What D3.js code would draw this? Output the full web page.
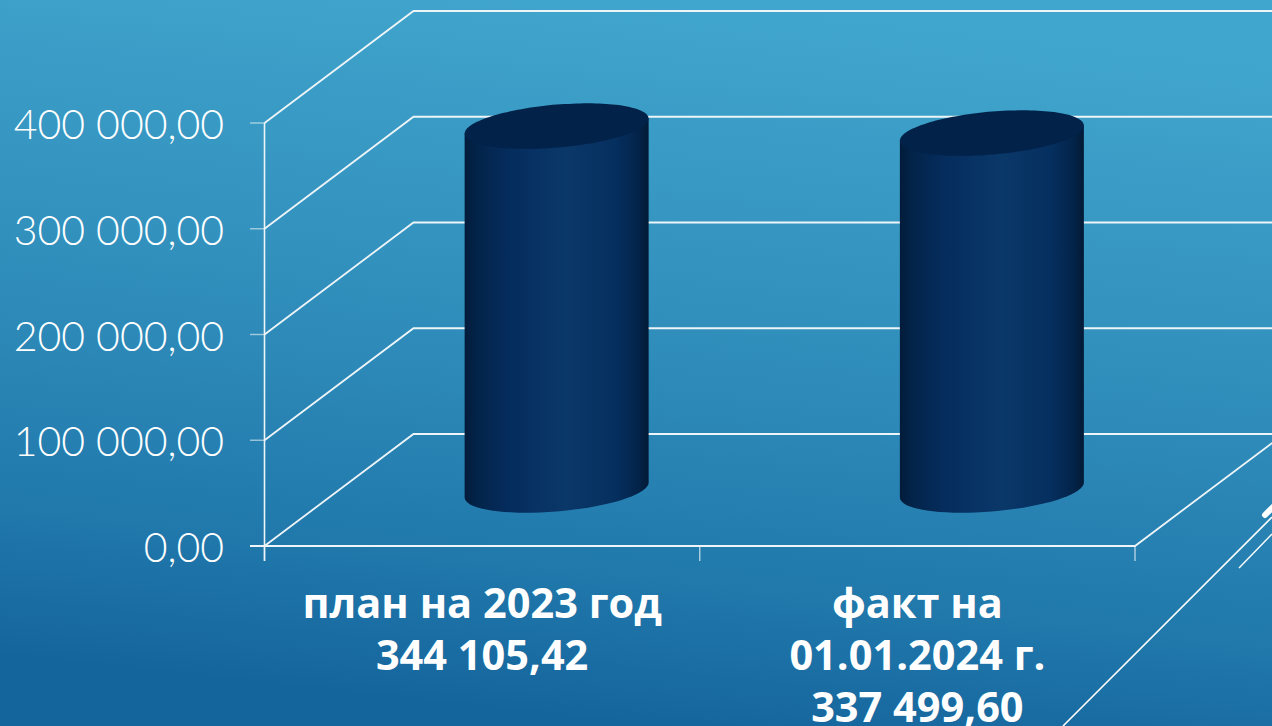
<!DOCTYPE html>
<html><head><meta charset="utf-8">
<style>html,body{margin:0;padding:0;background:#2a86b4;overflow:hidden}svg{display:block}</style>
<script src="https://cdn.jsdelivr.net/npm/d3@7/dist/d3.min.js"></script>
</head><body><script>
const categories = ["план на 2023 год", "факт на 01.01.2024 г."];
const categoryLines = [["план на 2023 год", "344 105,42"], ["факт на", "01.01.2024 г.", "337 499,60"]];
const values = [344105.42, 337499.60];
const yTicks = [0, 100000, 200000, 300000, 400000];
const yTickLabels = ["0,00", "100 000,00", "200 000,00", "300 000,00", "400 000,00"];

const W = 1272, H = 726, depthX = 149, depthY = 112;
const y = d3.scaleLinear().domain([0, 400000]).range([546, 123]);
const x = d3.scaleBand().domain(categories).range([264.5, 1135]);
const svg = d3.select("body").append("svg").attr("width", W).attr("height", H);
const defs = svg.append("defs");

const bg = defs.append("linearGradient").attr("id", "bg").attr("gradientUnits", "userSpaceOnUse")
  .attr("x1", 720).attr("y1", 0).attr("x2", 640).attr("y2", 726);
[[0, "#41a6cd"], [0.5, "#2f8cba"], [0.8, "#2078ab"], [1, "#15659d"]].forEach(s =>
  bg.append("stop").attr("offset", s[0]).attr("stop-color", s[1]));
const side = defs.append("linearGradient").attr("id", "side");
[[0, "#021b3a"], [0.07, "#03244a"], [0.25, "#052d5e"], [0.55, "#0a3869"], [0.82, "#052f5f"], [0.94, "#03244a"], [1, "#021a36"]].forEach(s =>
  side.append("stop").attr("offset", s[0]).attr("stop-color", s[1]));

svg.append("rect").attr("width", W).attr("height", H).attr("fill", "url(#bg)");

const line = "#eef5f8";
const g = svg.append("g").attr("fill", "none").attr("stroke", line);
g.selectAll(".wall").data(yTicks).join("path").attr("class", "wall")
  .attr("stroke-width", 1.8)
  .attr("d", d => `M${x.range()[0]},${y(d)}L${x.range()[0] + depthX},${y(d) - depthY}L${W + 5},${y(d) - depthY}`);
g.append("line").attr("x1", 264.5).attr("x2", 264.5).attr("y1", y(400000)).attr("y2", y(0) + 15).attr("stroke-width", 1.6);
g.selectAll(".yt").data(yTicks).join("line").attr("class", "yt")
  .attr("x1", 250).attr("x2", 264.5).attr("y1", d => y(d)).attr("y2", d => y(d))
  .attr("stroke-width", 1.4).attr("stroke-opacity", .6);
g.append("path").attr("stroke-width", 1.8)
  .attr("d", `M250,${y(0)}L1135,${y(0)}L${1135 + depthX},${y(0) - depthY}`);
g.selectAll(".xt").data(x.domain().concat(["end"])).join("line").attr("class", "xt")
  .attr("x1", d => d === "end" ? 1135 : x(d)).attr("x2", d => d === "end" ? 1135 : x(d))
  .attr("y1", y(0)).attr("y2", y(0) + 15).attr("stroke-width", 1.4).attr("stroke-opacity", .7);

const halfW = 92, capB = 21.5, capS = -7.5;
const ell = (cx, cy) => {
  const pts = d3.range(0, 72).map(i => {
    const t = i / 72 * 2 * Math.PI;
    return [cx + halfW * Math.cos(t), cy + capB * Math.sin(t) + capS * Math.cos(t)];
  });
  return d3.line().curve(d3.curveCardinalClosed)(pts);
};
const bars = svg.append("g").selectAll("g").data(categories.map((c, i) => ({c, v: values[i]}))).join("g");
bars.append("path").attr("fill", "url(#side)").attr("d", d => {
  const cx = x(d.c) + x.bandwidth() / 2 + depthX / 2;
  const top = y(d.v) - depthY / 2, bot = y(0) - depthY / 2;
  const r = d3.range(0, 37).map(i => {
    const t = i / 36 * Math.PI;
    return [cx + halfW * Math.cos(t), bot + capB * Math.sin(t) + capS * Math.cos(t)];
  });
  return `M${cx - halfW},${top - capS}L${cx + halfW},${top + capS}L` + r.map(p => p.join(",")).join("L") + "Z";
});
bars.append("path").attr("fill", "#02224a").attr("d", d =>
  ell(x(d.c) + x.bandwidth() / 2 + depthX / 2, y(d.v) - depthY / 2));

svg.append("g").selectAll("text").data(yTicks).join("text")
  .attr("x", 224).attr("y", d => y(d) + 16).attr("text-anchor", "end")
  .attr("fill", "#fff").attr("font-family", "Lato, 'Open Sans', sans-serif").attr("font-weight", 300)
  .attr("font-size", 41).text((d, i) => yTickLabels[i]);

const cat = svg.append("g").selectAll("text").data(categories).join("text")
  .attr("text-anchor", "middle").attr("fill", "#fff")
  .attr("font-family", "'Open Sans', sans-serif").attr("font-weight", 700).attr("font-size", 41.5);
cat.each(function(d, i) {
  d3.select(this).selectAll("tspan").data(categoryLines[i]).join("tspan")
    .attr("x", x(d) + x.bandwidth() / 2).attr("y", (l, j) => 618 + j * 52).text(l => l);
});

const deco = svg.append("g").attr("stroke", "#fff").attr("fill", "none");
deco.append("line").attr("x1", 1063).attr("y1", 726).attr("x2", 1272).attr("y2", 517).attr("stroke-width", 1.6);
deco.append("line").attr("x1", 1239).attr("y1", 568).attr("x2", 1272).attr("y2", 534).attr("stroke-width", 1.4);
deco.append("line").attr("x1", 1265).attr("y1", 515).attr("x2", 1274).attr("y2", 506).attr("stroke-width", 6).attr("stroke-linecap", "round");
</script></body></html>
